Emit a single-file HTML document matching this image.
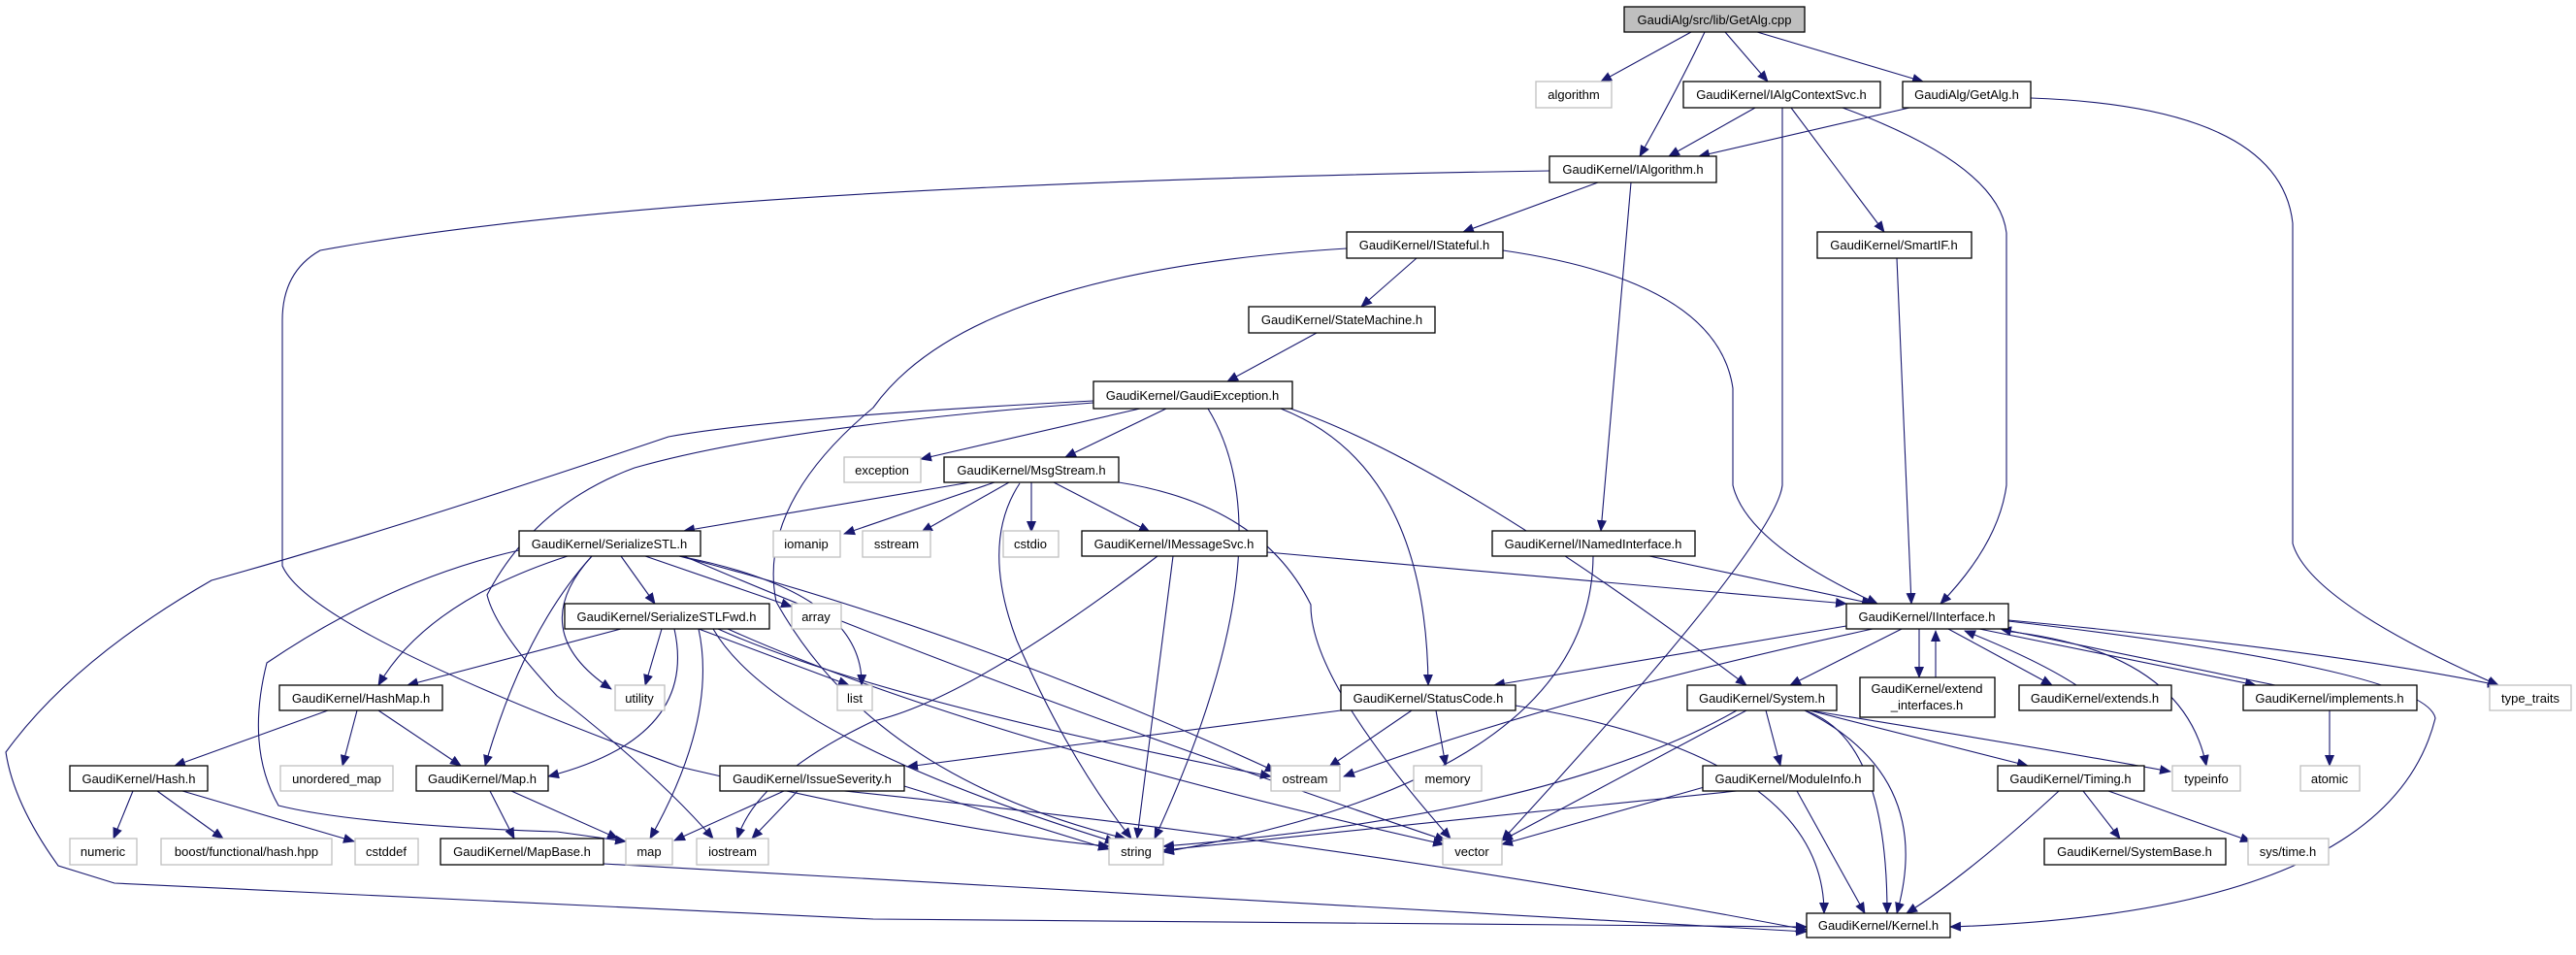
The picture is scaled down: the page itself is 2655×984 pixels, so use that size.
<!DOCTYPE html>
<html><head><meta charset="utf-8"><style>
html,body{margin:0;padding:0;background:#fff;}
svg{display:block;}
text{font-family:"Liberation Sans",Arial,sans-serif;font-size:13px;fill:#000;}
.n{fill:#fff;stroke:#000;stroke-width:1.3;}
.g{fill:#fff;stroke:#bfbfbf;stroke-width:1.3;}
.r{fill:#bfbfbf;stroke:#000;stroke-width:1.3;}
.e{fill:none;stroke:#191970;stroke-width:1.1;marker-end:url(#a);}
</style></head><body>
<svg width="2655" height="984" viewBox="0 0 2655 984" xmlns="http://www.w3.org/2000/svg">
<defs><marker id="a" markerUnits="userSpaceOnUse" markerWidth="12" markerHeight="10" refX="11" refY="5" orient="auto"><path d="M0,0 L12,5 L0,10 Z" fill="#191970"/></marker></defs>
<g>
<!-- root edges -->
<path class="e" d="M1743,33 L1650,84"/>
<path class="e" d="M1757,33 Q1730,90 1690,161"/>
<path class="e" d="M1778,33 L1822,84"/>
<path class="e" d="M1811,33 L1982,84"/>
<!-- IAlgContextSvc -->
<path class="e" d="M1809,111 L1720,161"/>
<path class="e" d="M1846,111 L1942,239"/>
<path class="e" d="M1837,111 L1837,500 Q1830,560 1548,866"/>
<path class="e" d="M1899,111 Q2060,170 2068,240 L2068,500 Q2060,560 2000,622"/>
<!-- GetAlg.h -->
<path class="e" d="M1968,111 L1751,161"/>
<path class="e" d="M2093,101 Q2350,110 2363,230 L2363,560 Q2380,620 2575,706"/>
<!-- IAlgorithm -->
<path class="e" d="M1647,188 L1508,239"/>
<path class="e" d="M1681,188 L1650,547"/>
<path class="e" d="M1597,176 Q700,190 330,258 Q291,280 291,330 L291,583 Q320,650 700,790 Q1000,860 1143,872"/>
<!-- IStateful -->
<path class="e" d="M1460,266 L1403,316"/>
<path class="e" d="M1549,258 Q1770,290 1786,400 L1786,500 Q1800,560 1935,622"/>
<path class="e" d="M1388,256 Q1000,280 900,420 Q780,520 800,620 Q900,800 1160,864"/>
<!-- StateMachine -->
<path class="e" d="M1357,343 L1265,393"/>
<!-- GaudiException -->
<path class="e" d="M1175,421 L949,473"/>
<path class="e" d="M1202,421 L1098,471"/>
<path class="e" d="M1245,421 Q1330,560 1190,864"/>
<path class="e" d="M1320,421 Q1470,480 1472,706"/>
<path class="e" d="M1330,421 Q1500,480 1800,706"/>
<path class="e" d="M1127,413 Q800,430 689,450 Q402,547 218,598 Q75,680 6,775 Q14,828 60,892 L118,910 L900,947 L1862,955"/>
<path class="e" d="M1127,415 Q800,440 654,482 Q551,520 502,613 Q511,650 574,717 Q680,800 735,864"/>
<!-- MsgStream -->
<path class="e" d="M1000,497 L705,547"/>
<path class="e" d="M1025,497 L870,550"/>
<path class="e" d="M1040,497 L950,548"/>
<path class="e" d="M1063,497 L1063,548"/>
<path class="e" d="M1086,497 L1185,548"/>
<path class="e" d="M1051,498 Q1010,560 1048,660 Q1100,780 1166,864"/>
<path class="e" d="M1153,497 Q1300,520 1351,623 Q1350,700 1495,864"/>
<!-- SerializeSTL -->
<path class="e" d="M585,573 Q440,620 390,706"/>
<path class="e" d="M640,573 L675,622"/>
<path class="e" d="M665,573 L816,625"/>
<path class="e" d="M610,573 Q540,650 630,710"/>
<path class="e" d="M610,573 Q540,650 500,789"/>
<path class="e" d="M535,567 Q402,597 275,683 Q253,770 287,830 Q367,850 574,857 L645,867"/>
<path class="e" d="M700,573 Q890,610 888,706"/>
<path class="e" d="M700,573 Q1000,650 1315,795"/>
<path class="e" d="M705,573 Q1000,700 1490,866"/>
<!-- SerializeSTLFwd -->
<path class="e" d="M640,648 L420,706"/>
<path class="e" d="M682,648 L665,706"/>
<path class="e" d="M695,648 Q720,760 565,800"/>
<path class="e" d="M720,648 Q740,740 670,864"/>
<path class="e" d="M720,648 L875,706"/>
<path class="e" d="M740,648 Q900,720 1310,800"/>
<path class="e" d="M735,648 Q800,760 1150,868"/>
<path class="e" d="M750,648 Q1000,760 1488,870"/>
<!-- HashMap -->
<path class="e" d="M338,732 L180,789"/>
<path class="e" d="M368,732 L353,789"/>
<path class="e" d="M390,732 L475,789"/>
<!-- Hash -->
<path class="e" d="M137,815 L117,864"/>
<path class="e" d="M162,815 L230,864"/>
<path class="e" d="M188,815 L365,867"/>
<!-- Map -->
<path class="e" d="M505,815 L530,864"/>
<path class="e" d="M527,815 L637,864"/>
<!-- MapBase -->
<path class="e" d="M622,890 L1862,960"/>
<!-- IssueSeverity -->
<path class="e" d="M808,815 L695,866"/>
<path class="e" d="M822,815 L775,864"/>
<path class="e" d="M932,810 L1143,875"/>
<path class="e" d="M870,815 Q1400,870 1862,958"/>
<!-- IMessageSvc -->
<path class="e" d="M1306,569 L1903,622"/>
<path class="e" d="M1209,573 L1172,864"/>
<path class="e" d="M1193,573 Q1000,720 900,743 Q780,800 760,864"/>
<!-- INamedInterface -->
<path class="e" d="M1700,573 L1930,622"/>
<path class="e" d="M1642,573 Q1640,800 1199,878"/>
<!-- IInterface -->
<path class="e" d="M1903,645 L1540,706"/>
<path class="e" d="M1960,648 L1845,706"/>
<path class="e" d="M1978,648 L1978,698"/>
<path class="e" d="M1995,698 L1995,650"/>
<path class="e" d="M2008,648 L2115,706"/>
<path class="e" d="M2140,706 Q2100,680 2025,650"/>
<path class="e" d="M2040,648 L2325,706"/>
<path class="e" d="M2345,706 L2062,648"/>
<path class="e" d="M2065,650 Q2250,670 2274,789"/>
<path class="e" d="M2070,639 Q2400,670 2575,706"/>
<path class="e" d="M2070,640 Q2500,690 2510,740 Q2460,940 2010,955"/>
<path class="e" d="M1930,648 Q1600,720 1385,800"/>
<!-- StatusCode -->
<path class="e" d="M1382,732 L935,790"/>
<path class="e" d="M1455,732 L1370,790"/>
<path class="e" d="M1480,732 L1490,789"/>
<path class="e" d="M1562,727 Q1880,780 1880,941"/>
<!-- System -->
<path class="e" d="M1820,732 L1835,789"/>
<path class="e" d="M1865,732 L2090,789"/>
<path class="e" d="M1865,732 Q2100,770 2237,795"/>
<path class="e" d="M1860,732 Q1945,760 1945,941"/>
<path class="e" d="M1860,732 Q1995,800 1955,941"/>
<path class="e" d="M1790,732 Q1600,840 1199,872"/>
<path class="e" d="M1800,732 L1548,866"/>
<!-- ModuleInfo -->
<path class="e" d="M1790,815 L1199,876"/>
<path class="e" d="M1760,810 L1548,870"/>
<path class="e" d="M1852,815 L1922,941"/>
<!-- Timing -->
<path class="e" d="M2147,815 L2185,864"/>
<path class="e" d="M2173,815 L2320,867"/>
<path class="e" d="M2122,815 Q2030,900 1965,941"/>
<!-- implements -->
<path class="e" d="M2401,732 L2401,789"/>
<!-- SmartIF -->
<path class="e" d="M1955,266 L1970,622"/>
</g>
<g>
<rect class="r" x="1674" y="7" width="186" height="26"/><text x="1767" y="25" text-anchor="middle">GaudiAlg/src/lib/GetAlg.cpp</text>
<rect class="g" x="1583" y="84" width="78" height="27"/><text x="1622" y="102" text-anchor="middle">algorithm</text>
<rect class="n" x="1735" y="84" width="203" height="27"/><text x="1836" y="102" text-anchor="middle">GaudiKernel/IAlgContextSvc.h</text>
<rect class="n" x="1961" y="84" width="132" height="27"/><text x="2027" y="102" text-anchor="middle">GaudiAlg/GetAlg.h</text>
<rect class="n" x="1597" y="161" width="172" height="27"/><text x="1683" y="179" text-anchor="middle">GaudiKernel/IAlgorithm.h</text>
<rect class="n" x="1388" y="239" width="161" height="27"/><text x="1468" y="257" text-anchor="middle">GaudiKernel/IStateful.h</text>
<rect class="n" x="1873" y="239" width="159" height="27"/><text x="1952" y="257" text-anchor="middle">GaudiKernel/SmartIF.h</text>
<rect class="n" x="1287" y="316" width="192" height="27"/><text x="1383" y="334" text-anchor="middle">GaudiKernel/StateMachine.h</text>
<rect class="n" x="1127" y="393" width="205" height="28"/><text x="1229" y="412" text-anchor="middle">GaudiKernel/GaudiException.h</text>
<rect class="g" x="870" y="471" width="79" height="26"/><text x="909" y="489" text-anchor="middle">exception</text>
<rect class="n" x="973" y="471" width="180" height="26"/><text x="1063" y="489" text-anchor="middle">GaudiKernel/MsgStream.h</text>
<rect class="n" x="535" y="547" width="187" height="26"/><text x="628" y="565" text-anchor="middle">GaudiKernel/SerializeSTL.h</text>
<rect class="g" x="797" y="547" width="69" height="27"/><text x="831" y="565" text-anchor="middle">iomanip</text>
<rect class="g" x="889" y="547" width="70" height="27"/><text x="924" y="565" text-anchor="middle">sstream</text>
<rect class="g" x="1034" y="547" width="57" height="27"/><text x="1062" y="565" text-anchor="middle">cstdio</text>
<rect class="n" x="1115" y="547" width="191" height="26"/><text x="1210" y="565" text-anchor="middle">GaudiKernel/IMessageSvc.h</text>
<rect class="n" x="1538" y="547" width="209" height="26"/><text x="1642" y="565" text-anchor="middle">GaudiKernel/INamedInterface.h</text>
<rect class="n" x="582" y="622" width="211" height="26"/><text x="687" y="640" text-anchor="middle">GaudiKernel/SerializeSTLFwd.h</text>
<rect class="g" x="816" y="622" width="51" height="26"/><text x="841" y="640" text-anchor="middle">array</text>
<rect class="n" x="1903" y="622" width="167" height="26"/><text x="1986" y="640" text-anchor="middle">GaudiKernel/IInterface.h</text>
<rect class="n" x="288" y="706" width="168" height="26"/><text x="372" y="724" text-anchor="middle">GaudiKernel/HashMap.h</text>
<rect class="g" x="634" y="706" width="51" height="26"/><text x="659" y="724" text-anchor="middle">utility</text>
<rect class="g" x="863" y="706" width="36" height="26"/><text x="881" y="724" text-anchor="middle">list</text>
<rect class="n" x="1382" y="706" width="180" height="26"/><text x="1472" y="724" text-anchor="middle">GaudiKernel/StatusCode.h</text>
<rect class="n" x="1739" y="706" width="154" height="26"/><text x="1816" y="724" text-anchor="middle">GaudiKernel/System.h</text>
<rect class="n" x="1917" y="698" width="139" height="41"/><text x="1986" y="714" text-anchor="middle">GaudiKernel/extend</text><text x="1986" y="731" text-anchor="middle">_interfaces.h</text>
<rect class="n" x="2081" y="706" width="157" height="26"/><text x="2159" y="724" text-anchor="middle">GaudiKernel/extends.h</text>
<rect class="n" x="2312" y="706" width="179" height="26"/><text x="2401" y="724" text-anchor="middle">GaudiKernel/implements.h</text>
<rect class="g" x="2566" y="706" width="84" height="26"/><text x="2608" y="724" text-anchor="middle">type_traits</text>
<rect class="n" x="72" y="789" width="142" height="26"/><text x="143" y="807" text-anchor="middle">GaudiKernel/Hash.h</text>
<rect class="g" x="289" y="789" width="116" height="26"/><text x="347" y="807" text-anchor="middle">unordered_map</text>
<rect class="n" x="429" y="789" width="136" height="26"/><text x="497" y="807" text-anchor="middle">GaudiKernel/Map.h</text>
<rect class="n" x="742" y="789" width="190" height="26"/><text x="837" y="807" text-anchor="middle">GaudiKernel/IssueSeverity.h</text>
<rect class="g" x="1310" y="789" width="71" height="26"/><text x="1345" y="807" text-anchor="middle">ostream</text>
<rect class="g" x="1457" y="789" width="70" height="26"/><text x="1492" y="807" text-anchor="middle">memory</text>
<rect class="n" x="1755" y="789" width="176" height="26"/><text x="1843" y="807" text-anchor="middle">GaudiKernel/ModuleInfo.h</text>
<rect class="n" x="2059" y="789" width="151" height="26"/><text x="2134" y="807" text-anchor="middle">GaudiKernel/Timing.h</text>
<rect class="g" x="2239" y="789" width="70" height="26"/><text x="2274" y="807" text-anchor="middle">typeinfo</text>
<rect class="g" x="2371" y="789" width="61" height="26"/><text x="2401" y="807" text-anchor="middle">atomic</text>
<rect class="g" x="72" y="864" width="69" height="27"/><text x="106" y="882" text-anchor="middle">numeric</text>
<rect class="g" x="166" y="864" width="176" height="27"/><text x="254" y="882" text-anchor="middle">boost/functional/hash.hpp</text>
<rect class="g" x="366" y="864" width="65" height="27"/><text x="398" y="882" text-anchor="middle">cstddef</text>
<rect class="n" x="454" y="864" width="168" height="27"/><text x="538" y="882" text-anchor="middle">GaudiKernel/MapBase.h</text>
<rect class="g" x="645" y="864" width="48" height="27"/><text x="669" y="882" text-anchor="middle">map</text>
<rect class="g" x="718" y="864" width="74" height="27"/><text x="755" y="882" text-anchor="middle">iostream</text>
<rect class="g" x="1143" y="864" width="56" height="27"/><text x="1171" y="882" text-anchor="middle">string</text>
<rect class="g" x="1487" y="864" width="61" height="27"/><text x="1517" y="882" text-anchor="middle">vector</text>
<rect class="n" x="2107" y="864" width="187" height="27"/><text x="2200" y="882" text-anchor="middle">GaudiKernel/SystemBase.h</text>
<rect class="g" x="2317" y="864" width="83" height="27"/><text x="2358" y="882" text-anchor="middle">sys/time.h</text>
<rect class="n" x="1862" y="941" width="148" height="25"/><text x="1936" y="958" text-anchor="middle">GaudiKernel/Kernel.h</text>
</g>
</svg>
</body></html>
